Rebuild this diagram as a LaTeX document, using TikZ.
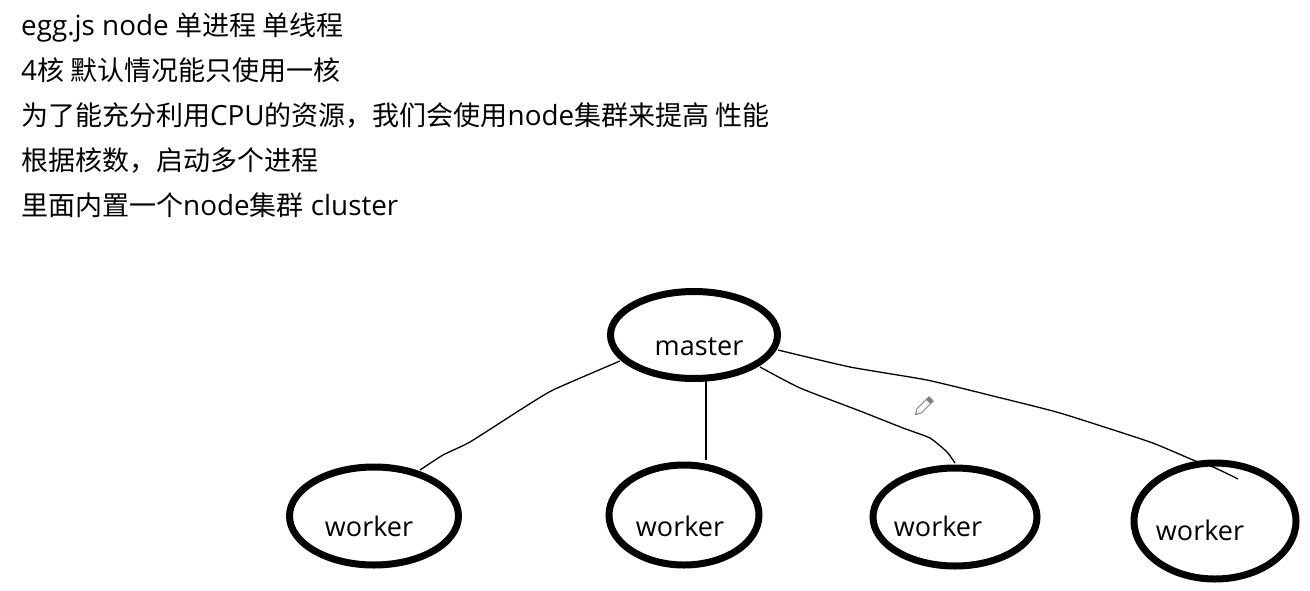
\documentclass[tikz,border=0pt]{standalone}
\usepackage{fontspec}
\setmainfont[Scale=1.03]{Open Sans}
\newfontfamily\cjk{Noto Sans CJK SC}
\usetikzlibrary{shapes.geometric}
\tikzset{
    txt/.style={anchor=base west, inner sep=0pt, font=\fontsize{27pt}{27pt}\selectfont},
    blob/.style={ellipse, draw=black, line width=7pt, inner sep=0pt},
    lbl/.style={inner sep=0pt, font=\fontsize{26.2pt}{27pt}\selectfont},
    wire/.style={draw=black, line width=1.3pt}
}
\begin{document}
\begin{tikzpicture}[x=1pt, y=-1pt]
    \useasboundingbox (0, 0) rectangle (1310, 590);

    \node[txt] (l1) at (21, 35) {egg.js node {\cjk 单进程 单线程}};
    \node[txt] (l2) at (21, 80) {4{\cjk 核 默认情况能只使用一核}};
    \node[txt] (l3) at (21, 125) {{\cjk 为了能充分利用}CPU{\cjk 的资源，我们会使用}node{\cjk 集群来提高 性能}};
    \node[txt] (l4) at (21, 170) {{\cjk 根据核数，启动多个进程}};
    \node[txt] (l5) at (21, 215) {{\cjk 里面内置一个}node{\cjk 集群} cluster};

    \node[blob, minimum width=167pt, minimum height=87pt] (master) at (694, 335) {};
    \node[blob, minimum width=169pt, minimum height=98pt] (w1) at (374, 516) {};
    \node[blob, minimum width=150pt, minimum height=100pt] (w2) at (684, 515) {};
    \node[blob, minimum width=164pt, minimum height=98pt] (w3) at (955, 517) {};
    \node[blob, minimum width=162pt, minimum height=116pt] (w4) at (1215, 521) {};

    \node[lbl] (mlabel) at (699, 347) {master};
    \node[lbl] (w1label) at (369, 526) {worker};
    \node[lbl] (w2label) at (680, 526) {worker};
    \node[lbl] (w3label) at (938, 526) {worker};
    \node[lbl] (w4label) at (1200, 530) {worker};

    \coordinate (m1) at (620, 361);
    \coordinate (m2) at (706, 380);
    \coordinate (m3) at (760, 367);
    \coordinate (m4) at (778, 350);
    \coordinate (e1) at (420, 470);
    \coordinate (e2) at (706, 460);
    \coordinate (e3) at (955, 463);
    \coordinate (e4) at (1238, 479);

    \draw[wire] plot[smooth, tension=0.3] coordinates {(m1) (553, 390) (520, 410) (470, 442) (443, 455) (e1)};
    \draw[wire] (m2) -- (e2);
    \draw[wire] plot[smooth, tension=0.3] coordinates {(m3) (800, 388) (860, 411) (903, 428) (930, 438) (947, 452) (e3)};
    \draw[wire] plot[smooth, tension=0.3] coordinates {(m4) (850, 367) (927, 380) (993, 396) (1060, 413) (1150, 442) (1193, 460) (1213, 467) (1230, 475) (e4)};

    % pencil cursor
    \begin{scope}[shift={(924, 406)}, rotate=225]
        \draw[draw=gray, fill=white, line width=1pt] (-10, -3) -- (7, -3) -- (12, 0) -- (7, 3) -- (-10, 3) -- cycle;
        \fill[gray] (-10, -3) rectangle (-6, 3);
    \end{scope}
\end{tikzpicture}
\end{document}
